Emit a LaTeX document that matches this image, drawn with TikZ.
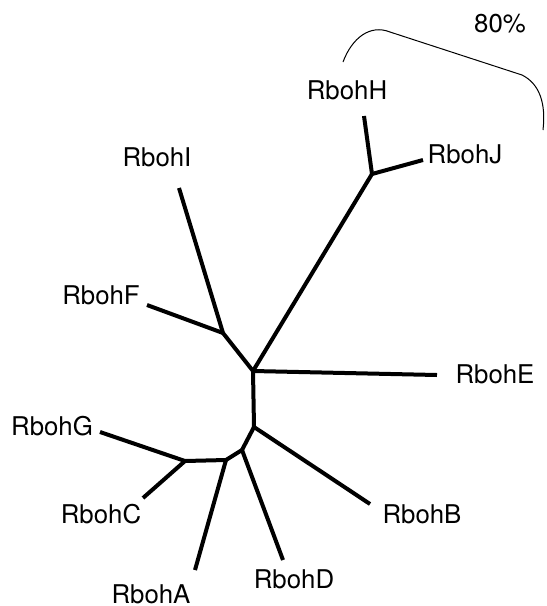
\documentclass[tikz,border=0pt]{standalone}
\usepackage{fontspec}
\setmainfont{TeX Gyre Heros}
\begin{document}
\begin{tikzpicture}[x=0.5pt, y=-0.5pt]
\tikzset{branch/.style={line width=2pt, line join=round},
         leaf/.style={font=\fontsize{12.9}{15}\selectfont, inner sep=0pt}}
\useasboundingbox (0,0) rectangle (547,606);

% junctions
\coordinate (r) at (253,371);
\coordinate (hj) at (372,174);
\coordinate (fi) at (223,333);
\coordinate (b1) at (254,427);
\coordinate (b2) at (242,450);
\coordinate (b3) at (226,460);
\coordinate (gc) at (185,461);

% tips
\coordinate (th) at (364,116);
\coordinate (tj) at (423,160);
\coordinate (ti) at (179,188);
\coordinate (tf) at (147,305);
\coordinate (te) at (437,375);
\coordinate (tg) at (100,432);
\coordinate (tc) at (143,498);
\coordinate (ta) at (195,570);
\coordinate (td) at (283,560);
\coordinate (tb) at (370,504);

% labels
\node[leaf] (h) at (347,90) {RbohH};
\node[leaf] (j) at (465,154) {RbohJ};
\node[leaf] (i) at (157,157) {RbohI};
\node[leaf] (f) at (101,295) {RbohF};
\node[leaf] (e) at (495,374) {RbohE};
\node[leaf] (g) at (52,426) {RbohG};
\node[leaf] (c) at (101,514) {RbohC};
\node[leaf] (b) at (422,514) {RbohB};
\node[leaf] (d) at (294,579) {RbohD};
\node[leaf] (a) at (151,594) {RbohA};
\node[leaf] (pct) at (500,24) {80\%};

\draw[branch] (r) -- (hj);
\draw[branch] (hj) -- (th);
\draw[branch] (hj) -- (tj);
\draw[branch] (r) -- (fi);
\draw[branch] (fi) -- (ti);
\draw[branch] (fi) -- (tf);
\draw[branch] (r) -- (te);
\draw[branch] (r) -- (b1);
\draw[branch] (b1) -- (tb);
\draw[branch] (b1) -- (b2);
\draw[branch] (b2) -- (td);
\draw[branch] (b2) -- (b3);
\draw[branch] (b3) -- (ta);
\draw[branch] (b3) -- (gc);
\draw[branch] (gc) -- (tg);
\draw[branch] (gc) -- (tc);

% bracket
\draw[line width=0.5pt] (343,62) .. controls (352,38) and (370,24) .. (390,32)
  -- (522,75) .. controls (540,84) and (546,104) .. (543,130);
\end{tikzpicture}
\end{document}
